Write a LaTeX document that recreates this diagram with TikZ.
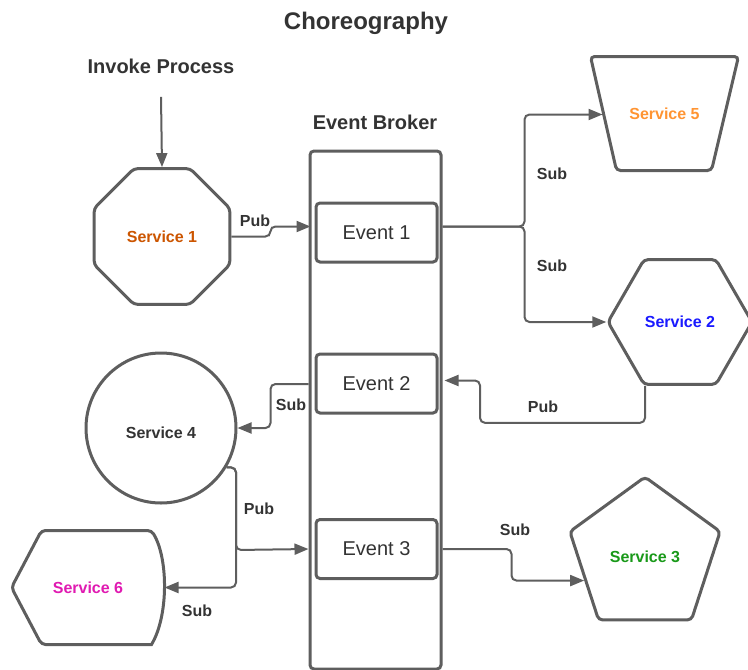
\documentclass[tikz,border=0pt]{standalone}
\usepackage{fontspec}
\setmainfont{Liberation Sans}
\usetikzlibrary{shapes.geometric, arrows.meta, calc}

\definecolor{linegray}{RGB}{94,94,94}
\definecolor{textgray}{RGB}{51,51,51}
\definecolor{svcorange}{RGB}{204,85,0}
\definecolor{svclight}{RGB}{255,148,50}
\definecolor{svcblue}{RGB}{26,26,255}
\definecolor{svcgreen}{RGB}{25,153,25}
\definecolor{svcpink}{RGB}{224,26,177}

\tikzset{
    shapebox/.style={draw=linegray, line width=3pt, rounded corners=4pt, fill=white, inner sep=0pt},
    service/.style={shapebox, font=\fontsize{16}{18}\selectfont\bfseries},
    freeshape/.style={service, draw=none, fill=none, rectangle, rounded corners=0pt},
    outline/.style={draw=linegray, line width=3pt, rounded corners=4pt},
    eventbox/.style={shapebox, minimum width=121pt, minimum height=59pt, text=textgray, font=\fontsize{20}{22}\selectfont},
    arr/.style={draw=linegray, line width=2pt, rounded corners=5pt, -{Triangle[length=14pt, width=11pt]}},
    lbl/.style={text=textgray, font=\fontsize{16}{18}\selectfont\bfseries},
}

\begin{document}
\begin{tikzpicture}[x=1pt, y=-1pt]
    \useasboundingbox (0,0) rectangle (748,670);

    \node[text=textgray, font=\fontsize{24}{26}\selectfont\bfseries] (title) at (366,23) {Choreography};
    \node[text=textgray, font=\fontsize{20}{22}\selectfont\bfseries] (invoke) at (161,66) {Invoke Process};
    \node[text=textgray, font=\fontsize{20}{22}\selectfont\bfseries] (brokerlbl) at (375,122) {Event Broker};

    \node[shapebox, minimum width=131pt, minimum height=518pt] (broker) at (375.5,410) {};
    \node[eventbox] (e1) at (376.5,232.5) {Event 1};
    \node[eventbox] (e2) at (376.5,383.5) {Event 2};
    \node[eventbox] (e3) at (376.5,549) {Event 3};

    \node[service, regular polygon, regular polygon sides=8, minimum size=147pt, text=svcorange] (s1) at (162,236.5) {Service 1};
    \node[freeshape, minimum width=145pt, minimum height=111pt, text=svclight] (s5) at (664.5,113.5) {Service 5};
    \draw[outline] (s5.north west) -- (s5.north east) -- ($(s5.south east)+(-27,0)$) -- ($(s5.south west)+(26,0)$) -- cycle;
    \node[service, regular polygon, regular polygon sides=6, minimum size=144pt, text=svcblue] (s2) at (680,322) {Service 2};
    \node[service, circle, minimum size=150pt] (s4) at (161,428) {};
    \node[text=textgray, font=\fontsize{16}{18}\selectfont\bfseries] (s4txt) at (161,433) {Service 4};
    \node[service, regular polygon, regular polygon sides=5, minimum size=158pt] (s3) at (645,556) {};
    \node[text=svcgreen, font=\fontsize{16}{18}\selectfont\bfseries] (s3txt) at (645,557) {Service 3};
    \node[freeshape, minimum width=150pt, minimum height=111pt, text=svcpink] (s6) at (88,587.5) {Service 6};
    \draw[outline]
        (s6.west) -- ($(s6.north west)+(30,0)$) -- ($(s6.north east)+(-13,0)$)
        [sharp corners] .. controls ($(s6.north east)+(4,28)$) and ($(s6.south east)+(4,-28)$) .. ($(s6.south east)+(-13,0)$)
        [rounded corners=4pt] -- ($(s6.south west)+(30,0)$) -- cycle;

    \draw[arr] ([yshift=-20pt]invoke.south) -- (s1.north);
    \draw[arr] (s1.east) -- ++(39,0) |- ($(broker.west |- e1.west)+(2,-6)$);
    \node[lbl] (pub1) at (255,221) {Pub};
    \draw[arr] ($(broker.east |- e1.east)+(0,-6)$) -- ++(82,0) |- ($(s5.west)+(12,1)$);
    \draw[arr] ($(broker.east |- e1.east)+(0,-6)$) -- ++(82,0) |- (s2.west);
    \node[lbl] (sub1) at (552,174) {Sub};
    \node[lbl] (sub2) at (552,266) {Sub};
    \draw[arr] ($(s2.south)+(-35,0)$) -- ++(0,37) -- ++(-165,0) |- ($(broker.east |- e2.east)+(2,-3)$);
    \node[lbl] (pub2) at (543,407) {Pub};
    \draw[arr] ($(broker.west |- e2.west)+(0,0.5)$) -- ++(-38,0) |- (s4.east);
    \node[lbl] (sub3) at (291,405) {Sub};
    \coordinate (j2) at (236,550);
    \draw[arr] (s4.-31) -| (j2) -- (broker.west |- e3.west);
    \draw[arr] (s4.-31) -| (j2) |- (s6.east);
    \node[lbl] (pub3) at (259,509) {Pub};
    \node[lbl] (sub4) at (197,611) {Sub};
    \draw[arr] (broker.east |- e3.east) -- ++(69,0) |- (s3.202);
    \node[lbl] (sub5) at (515,530) {Sub};
\end{tikzpicture}
\end{document}
